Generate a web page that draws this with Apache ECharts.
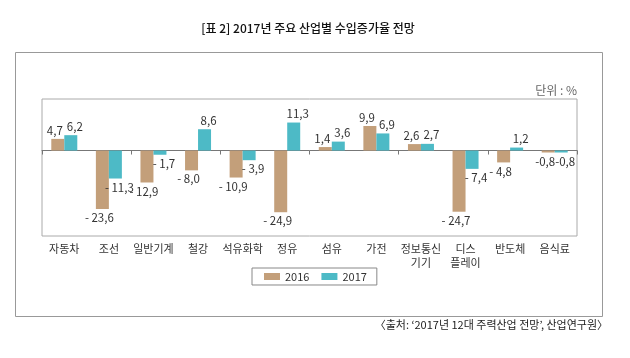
<!DOCTYPE html>
<html><head><meta charset="utf-8">
<script src="https://cdn.jsdelivr.net/npm/echarts@6/dist/echarts.min.js"></script>
<style>html,body{margin:0;padding:0;background:#fff}#c{width:630px;height:358px}</style>
</head><body><div id="c"></div>
<script>
const categories = ['자동차','조선','일반기계','철강','석유화학','정유','섬유','가전','정보통신\n기기','디스\n플레이','반도체','음식료'];
const values2016 = [4.7, -23.6, -12.9, -8.0, -10.9, -24.9, 1.4, 9.9, 2.6, -24.7, -4.8, -0.8];
const values2017 = [6.2, -11.3, -1.7, 8.6, -3.9, 11.3, 3.6, 6.9, 2.7, -7.4, 1.2, -0.8];
const seriesNames = ['2016', '2017'];

const FONT = '"Noto Sans CJK KR", "Noto Sans", sans-serif';
const NUMFONT = '"Liberation Sans Narrow", "Noto Sans CJK KR", sans-serif';
const fmt = p => {
  const v = p.value;
  const s = Math.abs(v).toFixed(1).replace('.', ',');
  return v < 0 ? (Math.abs(v) >= 1 ? '- ' : '-') + s : s;
};
const labelCfg = (dx) => ({show: true, position: 'outside', distance: 3, offset: [dx, 0], formatter: fmt,
  fontFamily: NUMFONT, fontSize: 11.5, color: '#333'});

const chart = echarts.init(document.getElementById('c'), null, {renderer: 'canvas'});
chart.setOption({
  animation: false,
  backgroundColor: '#fff',
  graphic: [
    {type: 'rect', shape: {x: 15.5, y: 52.5, width: 587, height: 264}, style: {fill: 'none', stroke: '#999', lineWidth: 1}, z: 0},
    {type: 'text', x: 308, y: 28, style: {text: '[표 2] 2017년 주요 산업별 수입증가율 전망', fontFamily: FONT, fontSize: 12, fontWeight: 500, fill: '#111', align: 'center', verticalAlign: 'middle'}},
    {type: 'text', x: 577, y: 90, style: {text: '단위 : %', fontFamily: FONT, fontSize: 12, fill: '#666', align: 'right', verticalAlign: 'middle'}},
    {type: 'text', x: 608, y: 325, style: {text: '〈출처: ‘2017년 12대 주력산업 전망’, 산업연구원〉', fontFamily: FONT, fontSize: 11, fill: '#222', align: 'right', verticalAlign: 'middle'}}
  ],
  legend: {
    data: seriesNames, left: 252, top: 268, orient: 'horizontal',
    itemWidth: 16, itemHeight: 7, itemGap: 12, padding: [3, 10, 3, 12],
    borderColor: '#888', borderWidth: 1, borderRadius: 0,
    textStyle: {fontFamily: FONT, fontSize: 11, color: '#333'},
    icon: 'rect'
  },
  grid: {left: 42, right: 53, top: 99, bottom: 122, show: true, borderColor: '#aaa', borderWidth: 1, backgroundColor: 'transparent'},
  xAxis: [
    {type: 'category', data: categories, position: 'bottom', boundaryGap: true,
     axisLine: {show: true, onZero: true, lineStyle: {color: '#777', width: 1}},
     axisTick: {show: true, length: 4, lineStyle: {color: '#777'}},
     axisLabel: {show: false}},
    {type: 'category', data: categories, position: 'bottom', boundaryGap: true,
     axisLine: {show: false, onZero: false}, axisTick: {show: false},
     axisLabel: {show: true, interval: 0, margin: 6, fontFamily: FONT, fontSize: 11, color: '#333', lineHeight: 14, verticalAlign: 'top'}}
  ],
  yAxis: {type: 'value', min: -34.5, max: 20.8, show: false, splitLine: {show: false}},
  series: [
    {name: seriesNames[0], type: 'bar', data: values2016, barWidth: 13, barGap: '0%', itemStyle: {color: '#C39F7A'}, label: labelCfg(-3)},
    {name: seriesNames[1], type: 'bar', data: values2017, barWidth: 13, barGap: '0%', itemStyle: {color: '#4DBAC6'}, label: labelCfg(4)}
  ]
});
</script></body></html>
